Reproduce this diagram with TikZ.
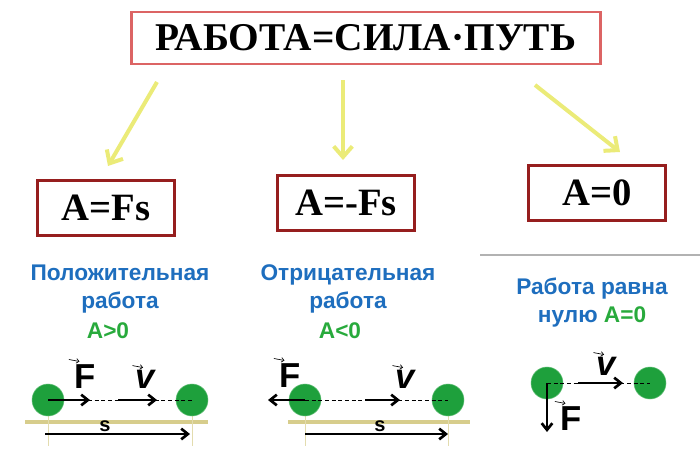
\documentclass[tikz,border=0pt]{standalone}
\usepackage{fontspec}
\setmainfont{Liberation Serif}
\setsansfont{Liberation Sans}
\usetikzlibrary{arrows.meta, positioning}
\definecolor{titlered}{RGB}{220, 100, 100}
\definecolor{boxred}{RGB}{150, 30, 30}
\definecolor{hintyellow}{RGB}{235, 235, 120}
\definecolor{textblue}{RGB}{30, 110, 190}
\definecolor{textgreen}{RGB}{40, 170, 60}
\definecolor{ballgreen}{RGB}{30, 160, 60}
\definecolor{groundtan}{RGB}{215, 205, 140}

\begin{document}
\begin{tikzpicture}[
    x=0.75pt, y=-0.75pt,
    formula/.style={
        rectangle,
        draw=boxred,
        line width=2pt,
        minimum width=103pt,
        minimum height=41pt,
        font=\fontsize{29}{31}\selectfont\bfseries
    },
    hint/.style={
        -{Straight Barb[length=8pt,width=14pt]},
        line width=3pt,
        hintyellow
    },
    caption/.style={
        font=\sffamily\bfseries\fontsize{17}{21}\selectfont,
        text=textblue,
        align=center
    },
    ball/.style={
        circle,
        fill=ballgreen,
        draw=ballgreen!70,
        minimum size=24pt,
        inner sep=0pt
    },
    vec/.style={
        -{Straight Barb[length=5pt,width=8pt]},
        line width=2pt
    },
    letter/.style={
        font=\sffamily\bfseries\fontsize{26}{27}\selectfont,
        inner sep=1pt
    },
    tinyvec/.style={
        -{Straight Barb[length=2pt,width=3.5pt]},
        line width=0.5pt
    },
    ground/.style={groundtan, line width=3pt},
    mark line/.style={groundtan!70, line width=0.4pt},
    path line/.style={densely dashed, line width=0.4pt}
]
\useasboundingbox (0,0) rectangle (700,457);

% Title
\node[draw=titlered, line width=2.2pt, minimum width=352pt, minimum height=39pt,
    font=\fontsize{29.5}{31}\selectfont\bfseries] (title) at (366,38) {РАБОТА=СИЛА·ПУТЬ};

% Formulas
\node[formula] (pos) at (106,208) {A=Fs};
\node[formula] (neg) at (346,203) {A=-Fs};
\node[formula] (zero) at (597,193) {A=0};

% Hints
\coordinate (h1) at (157,82);
\coordinate (h2) at (343,80);
\coordinate (h3) at (535,85);
\draw[hint] (h1) -- (108,166);
\draw[hint] (h2) -- (343,160);
\draw[hint] (h3) -- (620,152);

\draw[gray!60, line width=0.8pt] (480,255) -- (700,255);

% Captions
\node[caption] (cpos) at (120,289) {Положительная\\работа};
\node[caption, text=textgreen] (apos) at (108,331) {A>0};
\node[caption] (cneg) at (348,289) {Отрицательная\\работа};
\node[caption, text=textgreen] (aneg) at (340,331) {A<0};
\node[caption] (czero) at (592,303) {Работа равна\\нулю \textcolor{textgreen}{A=0}};

% Positive work
\draw[ground] (25,422) -- (208,422);
\draw[mark line] (48,400) -- (48,446);
\draw[mark line] (192,400) -- (192,446);
\node[ball] (p1) at (48,400) {};
\node[ball] (p2) at (192,400) {};
\draw[path line] (p1.center) -- (p2.center);
\coordinate (pf) at (90,400);
\coordinate (pv0) at (118,400);
\coordinate (pv) at (157,400);
\draw[vec] (p1.center) -- (pf);
\draw[vec] (pv0) -- (pv);
\node[letter] (pF) at (85,377) {F};
\node[letter] (pV) at (145,379) {\itshape v};
\draw[tinyvec] ([xshift=-3pt,yshift=3pt]pF.north west) -- ++(8pt,-1.5pt);
\draw[tinyvec] ([xshift=-1pt,yshift=2pt]pV.north west) -- ++(8pt,-1.5pt);
\coordinate (ps0) at (45,434);
\coordinate (ps) at (190,434);
\draw[vec] (ps0) -- (ps);
\node[font=\sffamily\bfseries\fontsize{15}{15}\selectfont] (pS) at (105,426) {s};

% Negative work
\draw[ground] (288,422) -- (470,422);
\draw[mark line] (305,400) -- (305,446);
\draw[mark line] (448,400) -- (448,446);
\node[ball] (n1) at (305,400) {};
\node[ball] (n2) at (448,400) {};
\draw[path line] (n1.center) -- (n2.center);
\coordinate (nf) at (268,400);
\coordinate (nv0) at (365,400);
\coordinate (nv) at (400,400);
\draw[vec] (n1.center) -- (nf);
\draw[vec] (nv0) -- (nv);
\node[letter] (nF) at (290,376) {F};
\node[letter] (nV) at (405,379) {\itshape v};
\draw[tinyvec] ([xshift=-3pt,yshift=3pt]nF.north west) -- ++(8pt,-1.5pt);
\draw[tinyvec] ([xshift=-1pt,yshift=2pt]nV.north west) -- ++(8pt,-1.5pt);
\coordinate (ns0) at (305,434);
\coordinate (ns) at (448,434);
\draw[vec] (ns0) -- (ns);
\node[font=\sffamily\bfseries\fontsize{15}{15}\selectfont] (nS) at (380,426) {s};

% Zero work
\node[ball] (z1) at (547,383) {};
\node[ball] (z2) at (650,383) {};
\draw[path line] (z1.center) -- (z2.center);
\coordinate (zv0) at (578,383);
\coordinate (zv) at (623,383);
\coordinate (zf) at (547,432);
\draw[vec] (zv0) -- (zv);
\draw[vec] (z1.center) -- (zf);
\node[letter] (zV) at (606,366) {\itshape v};
\node[letter] (zF) at (571,419) {F};
\draw[tinyvec] ([xshift=-1pt,yshift=2pt]zV.north west) -- ++(8pt,-1.5pt);
\draw[tinyvec] ([xshift=-3pt,yshift=3pt]zF.north west) -- ++(8pt,-1.5pt);
\end{tikzpicture}
\end{document}
